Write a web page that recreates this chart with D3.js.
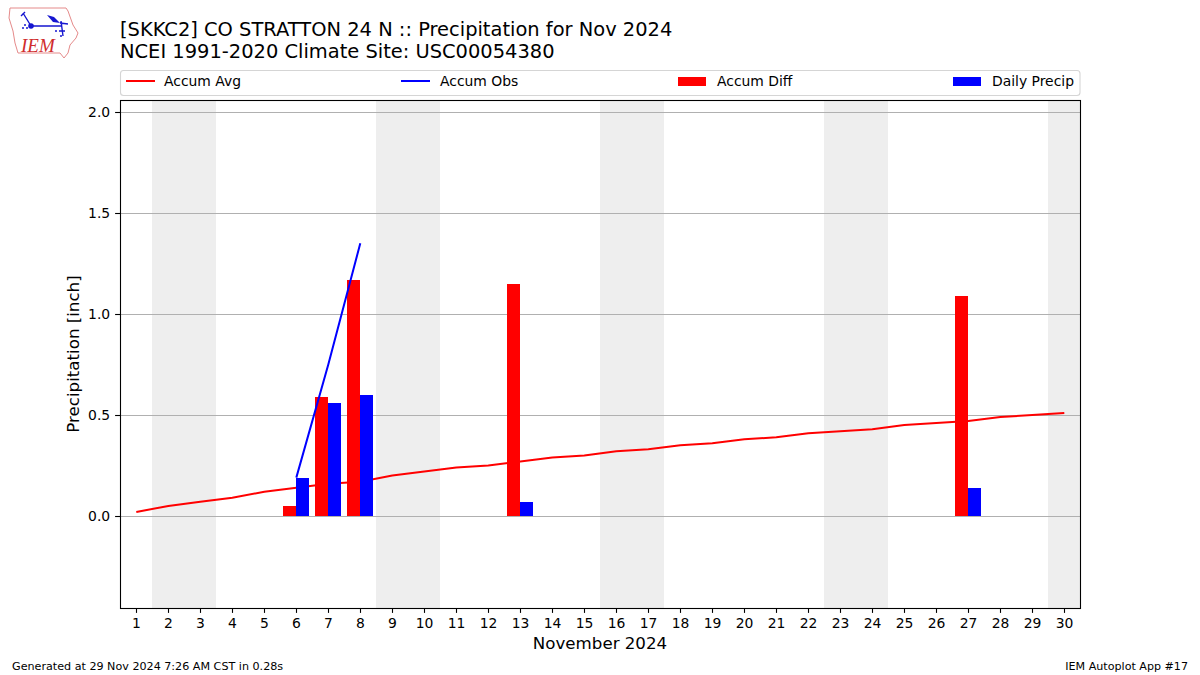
<!DOCTYPE html>
<html>
<head>
<meta charset="utf-8">
<script src="https://cdn.jsdelivr.net/npm/d3@7"></script>
<style>
  body { margin: 0; background: #fff; }
  svg text { font-family: "DejaVu Sans", sans-serif; fill: #000; }
</style>
</head>
<body>
<svg id="chart" width="1200" height="675"></svg>
<script>
var days = d3.range(1, 31);
var accumAvg = [0.02, 0.05, 0.07, 0.09, 0.12, 0.14, 0.16, 0.17, 0.20, 0.22,
                0.24, 0.25, 0.27, 0.29, 0.30, 0.32, 0.33, 0.35, 0.36, 0.38,
                0.39, 0.41, 0.42, 0.43, 0.45, 0.46, 0.47, 0.49, 0.50, 0.51];
var obsDays = [6, 7, 8];
var accumObs = [0.19, 0.75, 1.35];
var barDays = [6, 7, 8, 13, 27];
var accumDiff = [0.05, 0.59, 1.17, 1.15, 1.09];
var dailyPrecip = [0.19, 0.56, 0.60, 0.07, 0.14];
var weekends = [[1.5, 3.5], [8.5, 10.5], [15.5, 17.5], [22.5, 24.5], [29.5, 30.5]];
var yTicks = [0, 0.5, 1.0, 1.5, 2.0];
var legendItems = ["Accum Avg", "Accum Obs", "Accum Diff", "Daily Precip"];

var left = 120, right = 1080, top_ = 100, bottom = 608;
var barWidth = 0.4;

var svg = d3.select("#chart");

var x = d3.scaleLinear().domain([0.5, 30.5]).range([left, right]);
var y = d3.scaleLinear().domain([-0.4554, 2.0594]).range([bottom, top_]);

// weekend shading
svg.append("g").selectAll("rect")
  .data(weekends)
  .enter().append("rect")
    .attr("x", function(d) { return x(d[0]); })
    .attr("y", top_)
    .attr("width", function(d) { return x(d[1]) - x(d[0]); })
    .attr("height", bottom - top_)
    .attr("fill", "#eeeeee");

// grid
svg.append("g").selectAll("line")
  .data(yTicks)
  .enter().append("line")
    .attr("x1", left)
    .attr("x2", right)
    .attr("y1", function(d) { return Math.round(y(d)) + 0.5; })
    .attr("y2", function(d) { return Math.round(y(d)) + 0.5; })
    .attr("stroke", "#b0b0b0")
    .attr("stroke-width", 1.1);

var line = d3.line()
  .x(function(d) { return x(d[0]) + 0.3; })
  .y(function(d) { return y(d[1]); });

svg.append("path")
  .attr("d", line(d3.zip(days, accumAvg)))
  .attr("fill", "none")
  .attr("stroke", "#ff0000")
  .attr("stroke-width", 2);

svg.append("g").selectAll("rect")
  .data(d3.zip(barDays, accumDiff))
  .enter().append("rect")
    .attr("x", function(d) { return x(d[0] - barWidth); })
    .attr("y", function(d) { return y(d[1]); })
    .attr("width", x(barWidth) - x(0))
    .attr("height", function(d) { return y(0) - y(d[1]); })
    .attr("fill", "#ff0000")
    .attr("shape-rendering", "crispEdges");

svg.append("g").selectAll("rect")
  .data(d3.zip(barDays, dailyPrecip))
  .enter().append("rect")
    .attr("x", function(d) { return x(d[0]); })
    .attr("y", function(d) { return y(d[1]); })
    .attr("width", x(barWidth) - x(0))
    .attr("height", function(d) { return y(0) - y(d[1]); })
    .attr("fill", "#0000ff")
    .attr("shape-rendering", "crispEdges");

svg.append("path")
  .attr("d", line(d3.zip(obsDays, accumObs)))
  .attr("fill", "none")
  .attr("stroke", "#0000ff")
  .attr("stroke-width", 2);

// axes
var xAxis = svg.append("g")
  .attr("transform", "translate(0," + bottom + ")")
  .call(d3.axisBottom(x).tickValues(days).tickFormat(d3.format("d")).tickSize(4.9).tickPadding(4.9).tickSizeOuter(0));
var yAxis = svg.append("g")
  .attr("transform", "translate(" + left + ",0)")
  .call(d3.axisLeft(y).tickValues(yTicks).tickFormat(d3.format(".1f")).tickSize(4.9).tickPadding(4.9).tickSizeOuter(0));
xAxis.selectAll("text").style("font-size", "13.9px").style("font-family", "DejaVu Sans");
yAxis.selectAll("text").style("font-size", "13.9px").style("font-family", "DejaVu Sans");
xAxis.select(".domain").remove();
yAxis.select(".domain").remove();
xAxis.selectAll("line").attr("stroke-width", 1.1);
yAxis.selectAll("line").attr("stroke-width", 1.1);

svg.append("rect")
  .attr("x", left + 0.5)
  .attr("y", top_ + 0.5)
  .attr("width", right - left)
  .attr("height", bottom - top_)
  .attr("fill", "none")
  .attr("stroke", "#000")
  .attr("stroke-width", 1.1);

// labels
svg.append("text").attr("x", 600).attr("y", 649)
  .attr("text-anchor", "middle").style("font-size", "16.67px")
  .text("November 2024");
svg.append("text")
  .attr("transform", "translate(79,354) rotate(-90)")
  .attr("text-anchor", "middle").style("font-size", "16.67px")
  .text("Precipitation [inch]");

svg.append("text").attr("x", 120).attr("y", 35.5).style("font-size", "19.45px")
  .text("[SKKC2] CO STRATTON 24 N :: Precipitation for Nov 2024");
svg.append("text").attr("x", 120).attr("y", 57.5).style("font-size", "19.45px")
  .text("NCEI 1991-2020 Climate Site: USC00054380");

svg.append("text").attr("x", 12).attr("y", 670).style("font-size", "11.15px")
  .text("Generated at 29 Nov 2024 7:26 AM CST in 0.28s");
svg.append("text").attr("x", 1188).attr("y", 670).attr("text-anchor", "end").style("font-size", "11.12px")
  .text("IEM Autoplot App #17");

// legend
svg.append("rect")
  .attr("x", 120.5).attr("y", 70.5)
  .attr("width", 959.5).attr("height", 25)
  .attr("rx", 3)
  .attr("fill", "#fff")
  .attr("stroke", "#d5d5d5")
  .attr("stroke-width", 1.1);

var legendX = [126, 401, 678, 953];
var legendColors = ["#ff0000", "#0000ff", "#ff0000", "#0000ff"];
var legend = svg.selectAll(".legend")
  .data(legendItems)
  .enter().append("g")
    .attr("class", "legend")
    .attr("transform", function(d, i) { return "translate(" + legendX[i] + ",0)"; });

legend.filter(function(d, i) { return i < 2; }).append("line")
  .attr("x1", 0).attr("x2", 29).attr("y1", 81).attr("y2", 81)
  .attr("stroke", function(d) { return legendColors[legendItems.indexOf(d)]; })
  .attr("stroke-width", 2);
legend.filter(function(d, i) { return i >= 2; }).append("rect")
  .attr("x", 0).attr("y", 77).attr("width", 28).attr("height", 9)
  .attr("fill", function(d) { return legendColors[legendItems.indexOf(d)]; });
legend.append("text")
  .attr("x", function(d, i) { return i == 0 ? 38 : 39; })
  .attr("y", 86)
  .style("font-size", "13.9px")
  .text(function(d) { return d; });

// IEM logo
var logo = svg.append("g");
logo.append("path")
  .attr("d", "M10,8 L66,8 L68,11 L73,25 L78,33 L76,38 L70,45 L68,53 L64,58 L60,53 L18,53 L15,43 L13,31 L9,18 Z")
  .attr("fill", "#fff").attr("stroke", "#e58a8a").attr("stroke-width", 1);
logo.append("path")
  .attr("d", "M31,26 L62,26 M61,21 L63,36 M31,26 L23,13 M21,16 L25,12 M59,31 L65,31 M60,23 L68,24")
  .attr("fill", "none").attr("stroke", "#1616d0").attr("stroke-width", 1.4);
logo.append("circle").attr("cx", 31).attr("cy", 26).attr("r", 2.8).attr("fill", "#1616d0");
logo.append("path").attr("d", "M47,15 L54,17 L60,23 L53,22 Z").attr("fill", "#1616d0");
logo.append("g").attr("fill", "#1616d0").selectAll("circle")
  .data([[25, 25], [23, 28], [27, 28], [56, 31], [61, 36]])
  .enter().append("circle")
    .attr("cx", function(d) { return d[0]; })
    .attr("cy", function(d) { return d[1]; })
    .attr("r", 1);
logo.append("text").attr("x", 21).attr("y", 52)
  .style("font-family", "Liberation Serif").style("font-style", "italic")
  .style("font-size", "19px").style("fill", "#d02c2c")
  .text("IEM");
</script>
</body>
</html>
